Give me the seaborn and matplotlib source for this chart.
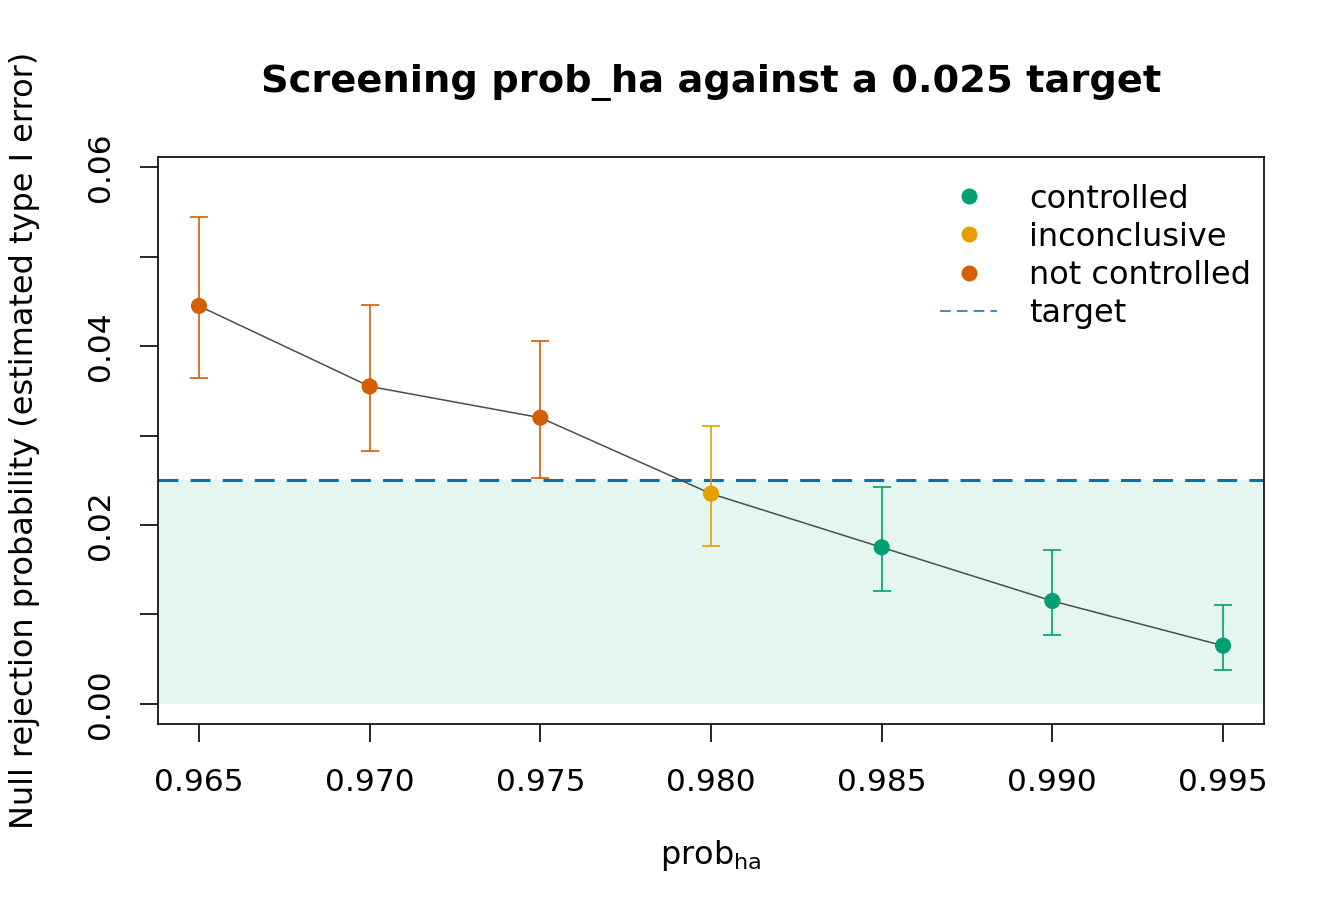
import numpy as np
import pandas as pd
import matplotlib
matplotlib.use("Agg")
import matplotlib.pyplot as plt
import seaborn as sns
from matplotlib.lines import Line2D
from matplotlib.ticker import FixedLocator, FormatStrFormatter

# values
prob_ha = [0.965, 0.970, 0.975, 0.980, 0.985, 0.990, 0.995]
rate = [0.0445, 0.0355, 0.0320, 0.0235, 0.0175, 0.0115, 0.0065]
ci_low = [0.0364, 0.0283, 0.0252, 0.0177, 0.0126, 0.0077, 0.0038]
ci_high = [0.0545, 0.0446, 0.0406, 0.0311, 0.0243, 0.0172, 0.0111]
status = ["not controlled", "not controlled", "not controlled", "inconclusive",
          "controlled", "controlled", "controlled"]
target = 0.025

colores = {"controlled": "#009E73", "inconclusive": "#E69F00", "not controlled": "#D55E00"}
col_target = "#0072B2"

df = pd.DataFrame({"prob_ha": prob_ha, "rate": rate, "lo": ci_low, "hi": ci_high, "status": status})

sns.set_style("ticks")
plt.rcParams["font.family"] = ["DejaVu Sans"]
plt.rcParams["font.size"] = 23
for k in ["text.color", "axes.labelcolor", "xtick.color", "ytick.color", "axes.edgecolor"]:
    plt.rcParams[k] = "black"

fig = plt.figure(figsize=(13.44, 9.21), dpi=100)
ax = fig.add_axes([158 / 1344, 1 - 724 / 921, 1106 / 1344, 567 / 921])

# region under the target
ax.axhspan(0, target, color="#009E73", alpha=0.1, lw=0, zorder=0)
ax.axhline(target, color=col_target, lw=2.2, dashes=(6.5, 4), zorder=1)

sns.lineplot(data=df, x="prob_ha", y="rate", color="#4D4D4D", lw=1.1, ax=ax, zorder=2)

for _, r in df.iterrows():
    ax.errorbar(r["prob_ha"], r["rate"], yerr=[[r["rate"] - r["lo"]], [r["hi"] - r["rate"]]],
                fmt="none", ecolor=colores[r["status"]], elinewidth=1.2, capsize=6.5,
                capthick=1.2, zorder=3)

sns.scatterplot(data=df, x="prob_ha", y="rate", hue="status", palette=colores,
                s=135, edgecolor="none", legend=False, ax=ax, zorder=4)

ax.set_xlim(0.9638, 0.9962)
ax.set_ylim(-0.00226, 0.06116)
ax.set_xticks(prob_ha)
ax.xaxis.set_major_formatter(FormatStrFormatter("%.3f"))
ax.yaxis.set_major_locator(FixedLocator([0.0, 0.02, 0.04, 0.06]))
ax.yaxis.set_minor_locator(FixedLocator([0.01, 0.03, 0.05]))
ax.yaxis.set_major_formatter(FormatStrFormatter("%.2f"))
ax.tick_params(axis="both", which="both", length=13, width=1.2, color="black",
               labelsize=22.5, labelcolor="black")
ax.tick_params(axis="x", pad=19)
ax.tick_params(axis="y", pad=18)
for lab in ax.get_yticklabels():
    lab.set_rotation(90)
    lab.set_va("center")
for sp in ax.spines.values():
    sp.set_visible(True)
    sp.set_linewidth(1.2)
    sp.set_color("black")

ax.set_xlabel(r"prob$_{\mathregular{ha}}$", fontsize=23)
ax.set_ylabel("Null rejection probability (estimated type I error)", fontsize=23)
ax.xaxis.set_label_coords(0.5, -0.201)
ax.yaxis.set_label_coords(-0.107, 0.5)
ax.set_title("Screening prob_ha against a 0.025 target", fontsize=27.6,
             fontweight="bold", pad=47)

handles = [Line2D([], [], ls="none", marker="o", ms=11.5, color=colores[k], mec="none")
           for k in ["controlled", "inconclusive", "not controlled"]]
handles.append(Line2D([], [], color=col_target, lw=1.1, dashes=(7, 4)))
ax.legend(handles, ["controlled", "inconclusive", "not controlled", "target"],
          loc="upper left", bbox_to_anchor=(0.707, 0.953), frameon=False,
          borderaxespad=0, borderpad=0, handlelength=1.8, handletextpad=1.0,
          labelspacing=0.22, fontsize=23)

fig.savefig("out.png", dpi=100)
